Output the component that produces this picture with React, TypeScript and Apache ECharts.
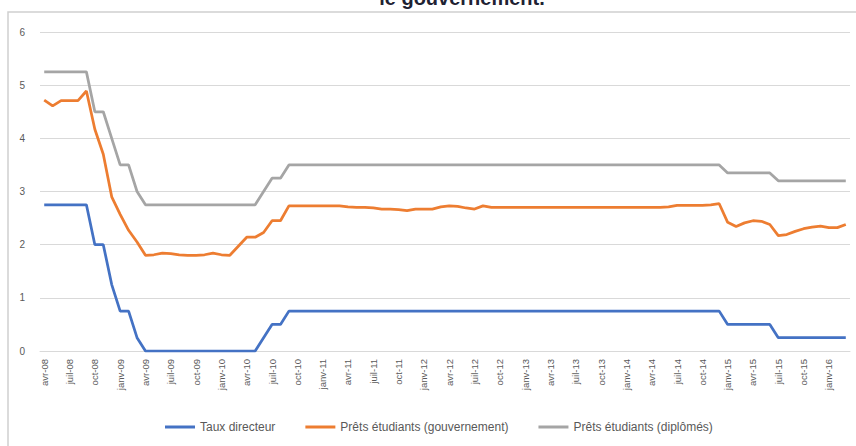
import React, { useEffect, useRef } from "react";
import * as echarts from "echarts";

// Month labels (French abbreviations), monthly from avr-08 to mars-16
const monthNames = ["janv", "févr", "mars", "avr", "mai", "juin", "juil", "août", "sept", "oct", "nov", "déc"];
const firstYear = 2008;
const firstMonthIndex = 3; // avr
const monthCount = 96;
const categories: string[] = Array.from({ length: monthCount }, (_, i) => {
  const m = (firstMonthIndex + i) % 12;
  const y = firstYear + Math.floor((firstMonthIndex + i) / 12);
  return `${monthNames[m]}-${String(y % 100).padStart(2, "0")}`;
});

const seriesNames = ["Taux directeur", "Prêts étudiants (gouvernement)", "Prêts étudiants (diplômés)"];

const tauxDirecteur = [
  2.75, 2.75, 2.75, 2.75, 2.75, 2.75, 2.0, 2.0, 1.25, 0.75,
  0.75, 0.25, 0, 0, 0, 0, 0, 0, 0, 0,
  0, 0, 0, 0, 0, 0, 0.25, 0.5, 0.5, 0.75,
  0.75, 0.75, 0.75, 0.75, 0.75, 0.75, 0.75, 0.75, 0.75, 0.75,
  0.75, 0.75, 0.75, 0.75, 0.75, 0.75, 0.75, 0.75, 0.75, 0.75,
  0.75, 0.75, 0.75, 0.75, 0.75, 0.75, 0.75, 0.75, 0.75, 0.75,
  0.75, 0.75, 0.75, 0.75, 0.75, 0.75, 0.75, 0.75, 0.75, 0.75,
  0.75, 0.75, 0.75, 0.75, 0.75, 0.75, 0.75, 0.75, 0.75, 0.75,
  0.75, 0.5, 0.5, 0.5, 0.5, 0.5, 0.5, 0.25, 0.25, 0.25,
  0.25, 0.25, 0.25, 0.25, 0.25, 0.25,
];

const pretsGouvernement = [
  4.72, 4.61, 4.71, 4.71, 4.71, 4.89, 4.17, 3.7, 2.9, 2.57,
  2.27, 2.05, 1.8, 1.81, 1.84, 1.83, 1.81, 1.8, 1.8, 1.81,
  1.84, 1.81, 1.8, 1.97, 2.14, 2.14, 2.23, 2.45, 2.45, 2.73,
  2.73, 2.73, 2.73, 2.73, 2.73, 2.73, 2.71, 2.7, 2.7, 2.69,
  2.67, 2.67, 2.66, 2.64, 2.67, 2.67, 2.67, 2.71, 2.73, 2.72,
  2.69, 2.67, 2.73, 2.7, 2.7, 2.7, 2.7, 2.7, 2.7, 2.7,
  2.7, 2.7, 2.7, 2.7, 2.7, 2.7, 2.7, 2.7, 2.7, 2.7,
  2.7, 2.7, 2.7, 2.7, 2.71, 2.74, 2.74, 2.74, 2.74, 2.75,
  2.77, 2.42, 2.34, 2.41, 2.45, 2.44, 2.38, 2.17, 2.19, 2.25,
  2.3, 2.33, 2.35, 2.32, 2.32, 2.38,
];

const pretsDiplomes = [
  5.25, 5.25, 5.25, 5.25, 5.25, 5.25, 4.5, 4.5, 4.0, 3.5,
  3.5, 3.0, 2.75, 2.75, 2.75, 2.75, 2.75, 2.75, 2.75, 2.75,
  2.75, 2.75, 2.75, 2.75, 2.75, 2.75, 3.0, 3.25, 3.25, 3.5,
  3.5, 3.5, 3.5, 3.5, 3.5, 3.5, 3.5, 3.5, 3.5, 3.5,
  3.5, 3.5, 3.5, 3.5, 3.5, 3.5, 3.5, 3.5, 3.5, 3.5,
  3.5, 3.5, 3.5, 3.5, 3.5, 3.5, 3.5, 3.5, 3.5, 3.5,
  3.5, 3.5, 3.5, 3.5, 3.5, 3.5, 3.5, 3.5, 3.5, 3.5,
  3.5, 3.5, 3.5, 3.5, 3.5, 3.5, 3.5, 3.5, 3.5, 3.5,
  3.5, 3.35, 3.35, 3.35, 3.35, 3.35, 3.35, 3.2, 3.2, 3.2,
  3.2, 3.2, 3.2, 3.2, 3.2, 3.2,
];

const colors = ["#4472C4", "#ED7D31", "#A5A5A5"];
const titleTail = "le gouvernement.";

export default function App() {
  const ref = useRef<HTMLDivElement>(null);

  useEffect(() => {
    if (!ref.current) return;
    const chart = echarts.init(ref.current, undefined, { renderer: "svg" });
    const font = "'Liberation Sans', Arial, sans-serif";
    const dataSets = [tauxDirecteur, pretsGouvernement, pretsDiplomes];
    chart.setOption({
      animation: false,
      backgroundColor: "#ffffff",
      textStyle: { fontFamily: font },
      graphic: [
        {
          type: "rect",
          silent: true,
          z: -10,
          shape: { x: 8, y: 12, width: 860, height: 460 },
          style: { fill: "none", stroke: "#d0d0d0", lineWidth: 1.5 },
        },
        {
          type: "text",
          silent: true,
          x: 462,
          y: -2.5,
          style: {
            text: titleTail,
            align: "center",
            verticalAlign: "middle",
            fontSize: 20,
            fontWeight: "bold",
            fontFamily: font,
            fill: "#1f2233",
          },
        },
      ],
      grid: { left: 40, right: 6, top: 32, bottom: 95, containLabel: false },
      legend: {
        left: 165,
        top: 421,
        padding: 0,
        icon: "rect",
        itemWidth: 30,
        itemHeight: 3,
        itemGap: 30,
        textStyle: { fontSize: 12, color: "#595959", fontFamily: font },
        data: seriesNames,
      },
      xAxis: {
        type: "category",
        data: categories,
        boundaryGap: true,
        axisLine: { show: true, lineStyle: { color: "#d9d9d9", width: 1 } },
        axisTick: { show: false },
        axisLabel: {
          interval: 2,
          rotate: 90,
          fontSize: 9.5,
          color: "#595959",
          margin: 8,
          fontFamily: font,
        },
        splitLine: { show: false },
      },
      yAxis: {
        type: "value",
        min: 0,
        max: 6,
        interval: 1,
        axisLine: { show: false },
        axisTick: { show: false },
        axisLabel: { fontSize: 10, color: "#595959", margin: 15, fontFamily: font },
        splitLine: { show: true, lineStyle: { color: "#d9d9d9", width: 1 } },
      },
      series: seriesNames.map((name, i) => ({
        name,
        type: "line",
        data: dataSets[i],
        symbol: "none",
        smooth: false,
        color: colors[i],
        lineStyle: { color: colors[i], width: 2.75 },
      })),
    });
    return () => chart.dispose();
  }, []);

  return (
    <div
      ref={ref}
      style={{ position: "absolute", left: 0, top: 0, width: 856, height: 446, background: "#fff" }}
    />
  );
}
